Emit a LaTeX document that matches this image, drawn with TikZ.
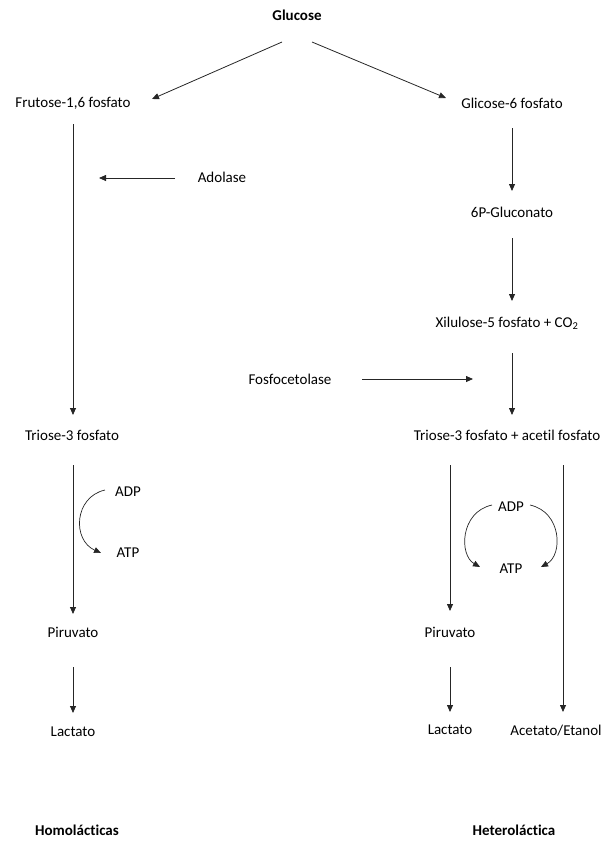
\documentclass[tikz,border=0pt]{standalone}
\usepackage{fontspec}
\setmainfont{Carlito}[Ligatures={NoCommon,TeX}]
\usetikzlibrary{arrows.meta}
\begin{document}
\begin{tikzpicture}[x=1pt,y=-1pt,
  lbl/.style={inner sep=0pt,font=\fontsize{15}{18}\selectfont},
  bl/.style={lbl,font=\fontsize{15}{18}\selectfont\bfseries},
  arr/.style={-{Triangle[length=7pt,width=6pt]},line width=0.8pt,draw=black!85}]
\useasboundingbox (0,0) rectangle (603,841);
% nodes
\node[bl] (glu) at (297,15) {Glucose};
\node[lbl] (fru) at (73,103) {Frutose-1,6 fosfato};
\node[lbl] (gli) at (512,103) {Glicose-6 fosfato};
\node[lbl] (ado) at (222,177) {Adolase};
\node[lbl] (gluc) at (512,212) {6P-Gluconato};
\node[lbl] (xil) at (507,323) {Xilulose-5 fosfato + CO\textsubscript{2}};
\node[lbl] (fos) at (290,379) {Fosfocetolase};
\node[lbl] (triL) at (72,435) {Triose-3 fosfato};
\node[lbl] (triR) at (507,435) {Triose-3 fosfato + acetil fosfato};
\node[lbl] (adpL) at (128,492) {ADP};
\node[lbl] (atpL) at (128,553) {ATP};
\node[lbl] (adpR) at (511,507) {ADP};
\node[lbl] (atpR) at (511,569) {ATP};
\node[lbl] (piL) at (73,632) {Piruvato};
\node[lbl] (piR) at (450,632) {Piruvato};
\node[lbl] (laL) at (73,732) {Lactato};
\node[lbl] (laR) at (450,730) {Lactato};
\node[lbl] (ace) at (556,731) {Acetato/Etanol};
\node[bl] (homo) at (77,830) {Homolácticas};
\node[bl] (het) at (514,830) {Heteroláctica};
% coordinates
\coordinate (g1) at (282,42);
\coordinate (g2) at (312,42);
\coordinate (f1) at (152,99);
\coordinate (gl1) at (446,98);
\coordinate (a1) at (175,178);
\coordinate (a2) at (99,178);
\coordinate (fo1) at (362,379);
\coordinate (fo2) at (473,379);
% connectors
\draw[arr] (g1) -- (f1);
\draw[arr] (g2) -- (gl1);
\draw[arr] (fru.south -| 73,0) ++(0,15) -- (73,415);
\draw[arr] (a1) -- (a2);
\draw[arr] (512,128) -- (512,191);
\draw[arr] (512,238) -- (512,301);
\draw[arr] (512,353) -- (512,415);
\draw[arr] (fo1) -- (fo2);
\draw[arr] (73,465) -- (73,614);
\draw[arr] (73,667) -- (73,713);
\draw[arr] (450,465) -- (450,611);
\draw[arr] (450,667) -- (450,712);
\draw[arr] (563,465) -- (563,712);
% ADP/ATP curves
\draw[arr,line width=0.7pt] (105,490) .. controls (74,497) and (72,540) .. (101,553);
\draw[arr,line width=0.7pt] (492,505) .. controls (460,512) and (459,555) .. (480,567);
\draw[arr,line width=0.7pt] (530,505) .. controls (562,512) and (563,555) .. (541,567);
\end{tikzpicture}
\end{document}
